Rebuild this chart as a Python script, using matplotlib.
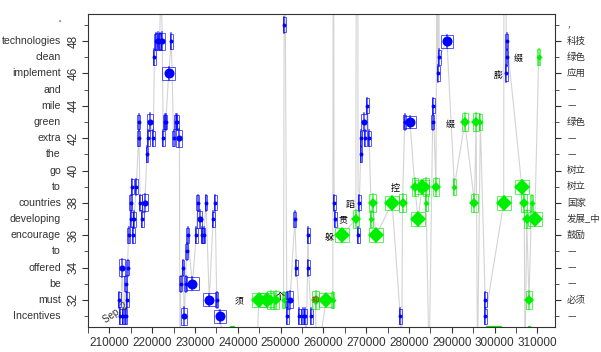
import matplotlib
matplotlib.use('Agg')
from matplotlib import pyplot as plt
from matplotlib.patches import Rectangle
import numpy as np

# blue series: position, word index, size class (1 small, 2 medium, 3 big)
blue_x = [212270, 212500, 213030, 213260, 213790, 213860, 214170, 214240, 214470, 215000,
          215150, 215300, 215530, 215760, 216290, 216820, 216820, 217200, 217650, 218260,
          218790, 219090, 219470, 220230, 220530, 220830, 221360, 221740, 222350, 222580,
          222880, 223180, 223860, 224470, 225000, 225530, 225910, 226360, 226670, 227200,
          227500, 227800, 228030, 228260, 229390, 230300, 230680, 231060, 231670, 232050,
          232580, 233330, 234240, 234700, 235080, 235830,
          250840, 251440, 251590, 252200, 253330, 253710, 254390, 255150, 255760, 256510,
          256440, 257120, 262500, 262800, 268110, 268410, 268790, 268790, 269390, 270300,
          269770, 270680, 277950, 279000, 280230, 285530, 285680, 286800, 287050, 288860,
          297800, 297850, 302730, 302880, 302880]
blue_y = [32, 31, 34, 31, 33, 31, 32, 34, 36, 38,
          37, 39, 36, 37, 39, 42, 43, 38, 37, 38,
          41, 42, 43, 42, 47, 48, 48, 48, 48, 42,
          43, 43, 46, 48, 42, 43, 43, 42, 33, 34,
          31, 33, 35, 36, 33, 36, 38, 37, 36, 36,
          38, 32, 37, 38, 32, 31,
          49, 32, 31, 32, 37, 34, 31, 31, 31, 34,
          36, 31, 38, 37, 36, 38, 42, 41, 43, 44,
          42, 42, 31, 43, 43, 43, 44, 46, 47, 48,
          32, 31, 46, 47, 48]
blue_s = [1, 1, 2, 1, 1, 1, 1, 1, 1, 1,
          1, 1, 1, 1, 1, 1, 1, 1, 1, 2,
          1, 1, 2, 1, 1, 1, 2, 1, 2, 1,
          1, 1, 3, 1, 1, 1, 1, 2, 1, 1,
          2, 1, 1, 1, 3, 1, 1, 2, 1, 1,
          1, 3, 1, 1, 1, 3,
          1, 1, 1, 2, 1, 1, 1, 1, 1, 1,
          1, 1, 1, 1, 1, 1, 1, 1, 2, 1,
          1, 1, 1, 1, 3, 1, 1, 1, 1, 3,
          1, 1, 1, 1, 1]

# green series
green_x = [244930, 246890, 247650, 248930, 250680, 258180, 260680, 262200, 264320, 267580,
           271210, 271520, 272270, 276060, 278480, 281360, 282120, 283030, 284000, 284000,
           286300, 290600, 293030, 295680, 296670, 295300, 302120, 306360, 306900, 307500,
           308640, 309390, 308030, 310300]
green_y = [32, 32, 32, 32, 32, 32, 32, 32, 36, 37,
           37, 38, 36, 38, 38, 39, 37, 39, 39, 38,
           39, 39, 43, 43, 43, 38, 38, 39, 38, 37,
           38, 37, 32, 47]
green_s = [3, 3, 2, 2, 1, 2, 3, 1, 3, 2,
           1, 2, 3, 3, 2, 2, 3, 3, 2, 1,
           2, 1, 2, 2, 1, 2, 3, 3, 2, 2,
           1, 3, 2, 1]

# small boxes sitting on the bottom edge
floor_x = [238640, 299700, 308030]
floor_w = [1000, 3400, 500]

# connector excursions leaving the plot area
spike_x = [222050, 226500, 237000, 244300, 250840, 250900, 255900, 258300, 262300, 262350,
           267700, 268000, 278300, 284700, 286600, 286900, 296000, 302200, 302600, 307100]
spike_y = [52, 28, 28, 28, 60, 60, 28, 28, 60, 60,
           60, 60, 28, 28, 60, 60, 28, 60, 60, 28]

left_words = ["Incentives", "must", "be", "offered", "to", "encourage", "developing",
              "countries", "to", "go", "the", "extra", "green", "mile", "and",
              "implement", "clean", "technologies", "'"]
right_words = ["—", "必须", "—", "—", "—", "鼓励", "发展_中", "国家", "树立", "树立",
               "—", "—", "绿色", "—", "—", "应用", "绿色", "科技", ","]
word_pos = list(range(31, 50))

notes = [("须", 241300, 31.9), ("个", 250960, 32.2), ("躲", 262340, 35.85),
         ("贯", 265600, 36.95), ("蹈", 267350, 37.9), ("控", 277880, 38.9),
         ("缀", 290750, 42.85), ("膨", 301950, 45.9), ("缀", 306500, 46.9)]

BLUE = '#0000ff'
GREEN = '#00ee00'
PX_X = 10000 / 44.0     # data units per pixel
PX_Y = 1 / 16.19

plt.rcParams['font.family'] = ['Liberation Sans', 'DejaVu Sans']

fig = plt.figure(figsize=(6.01, 3.52), dpi=100)
ax = fig.add_axes([0.1464, 0.071, 0.777, 0.889])

# grey connector through everything, in x order
all_x = blue_x + green_x + spike_x
all_y = blue_y + green_y + spike_y
order = np.argsort(all_x, kind='stable')
ax.plot(np.array(all_x)[order], np.array(all_y)[order], color='#d4d4d4', lw=0.8, zorder=1)


def draw_points(xs, ys, ss, color, marker, scale):
    sizes = {1: 2.8 * scale, 2: 4.4 * scale, 3: 7.2 * scale}
    boxes = {1: (3, 15), 2: (6, 17), 3: (13, 13)}
    bars = {1: 0.5, 2: 0.55, 3: 0.4}
    for x, y, s in zip(xs, ys, ss):
        w, h = boxes[s]
        w, h = w * scale, h * min(scale, 1.05)
        ax.add_patch(Rectangle((x - w * PX_X / 2, y - h * PX_Y / 2), w * PX_X, h * PX_Y,
                               fill=False, ec=color, lw=0.7, alpha=0.65, zorder=2))
        ax.plot([x, x], [y - bars[s], y + bars[s]], color=color, lw=1.1, alpha=0.75, zorder=3)
        ax.plot(x, y, marker=marker, color=color, ms=sizes[s], mew=0, zorder=4)


draw_points(blue_x, blue_y, blue_s, BLUE, 'o', 1.0)
draw_points(green_x, green_y, green_s, GREEN, 'D', 1.1)
for x, w in zip(floor_x, floor_w):
    ax.add_patch(Rectangle((x - w / 2, 30.3), w, 0.12, fill=False, ec=GREEN, lw=0.9, zorder=2))

cjk = ['Noto Sans CJK SC', 'DejaVu Sans']
for t, x, y in notes:
    ax.text(x, y, t, family=cjk, fontsize=6.5, ha='right', va='center', zorder=5)
ax.text(258180, 32, "抑", family=cjk, fontsize=5, color='red', ha='center', va='center', zorder=5)
ax.text(211400, 31.2, "Sep. 2", fontsize=7, rotation=35, ha='center', va='center',
        color='#333333', zorder=5)

ax.set_xlim(207950, 314100)
ax.set_ylim(30.33, 49.67)
ax.set_xticks(np.arange(210000, 310001, 10000))
ax.set_xticks(np.arange(205000, 315000, 5000), minor=True)
ax.set_yticks(np.arange(32, 49, 2))
ax.set_yticks(np.arange(31, 50, 1), minor=True)
ax.tick_params(axis='x', which='both', labelsize=8.5, colors='#333333', length=4)
ax.tick_params(axis='y', which='both', labelsize=8.5, colors='#333333', length=4,
               right=True, labelrotation=90, pad=2)
ax.tick_params(axis='y', which='minor', length=3)
for lab in ax.get_yticklabels():
    lab.set_va('center')
for sp in ax.spines.values():
    sp.set_color('#333333')

for y, w in zip(word_pos, left_words):
    ax.text(-0.058, y, w, transform=ax.get_yaxis_transform(),
            fontsize=7.6, ha='right', va='center', color='#333333')
for y, w in zip(word_pos, right_words):
    ax.text(1.026, y, w, transform=ax.get_yaxis_transform(), family=cjk,
            fontsize=6.8, ha='left', va='center', color='#333333')

fig.savefig('out.png', dpi=100)
